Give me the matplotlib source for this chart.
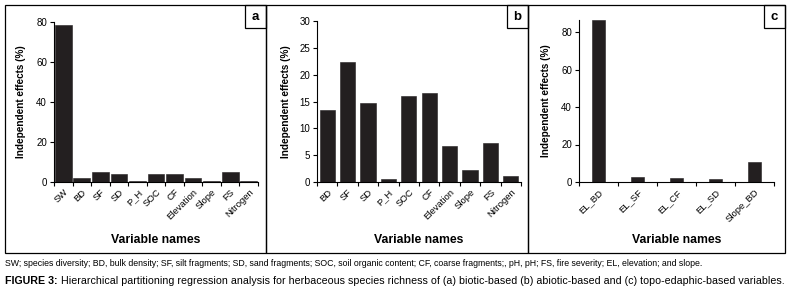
import numpy as np
import matplotlib
matplotlib.use('Agg')
import matplotlib.pyplot as plt
from matplotlib.patches import Rectangle

plt.rcParams['font.family'] = ['Liberation Sans', 'DejaVu Sans']

# data
vars_a = ['SW', 'BD', 'SF', 'SD', 'P_H', 'SOC', 'CF', 'Elevation', 'Slope', 'FS', 'Nitrogen']
vals_a = [78.7, 1.8, 4.9, 3.8, 0.7, 3.8, 3.8, 1.8, 0.7, 4.9, 0.7]

vars_b = ['BD', 'SF', 'SD', 'P_H', 'SOC', 'CF', 'Elevation', 'Slope', 'FS', 'Nitrogen']
vals_b = [13.5, 22.3, 14.8, 0.5, 16.0, 16.5, 6.8, 2.2, 7.2, 1.2]

vars_c = ['EL_BD', 'EL_SF', 'EL_CF', 'EL_SD', 'Slope_BD']
vals_c = [86.2, 2.5, 2.0, 1.4, 10.5]

bar_color = '#231f20'
W, H = 790, 292

fig = plt.figure(figsize=(W / 100, H / 100), dpi=100)


def px_axes(x0, x1, y_top, y_bot):
    ax = fig.add_axes([x0 / W, 1 - y_bot / H, (x1 - x0) / W, (y_bot - y_top) / H])
    return ax, (x0, x1, y_top, y_bot)


def panel(ax, box, names, vals, width, ymax, yticks, spine_top, ylab_x):
    n = len(names)
    x = np.arange(n)
    ax.bar(x, vals, width=width, color=bar_color, edgecolor=bar_color, linewidth=0.4)
    ax.set_xlim(-0.5, n - 0.5)
    ax.set_ylim(0, ymax)
    ax.set_yticks(yticks)
    ax.set_yticklabels([str(t) for t in yticks], fontsize=7)
    ax.set_xticks(x)
    ax.set_xticklabels(names, rotation=45, ha='right', rotation_mode='anchor', fontsize=6.8)
    ax.set_xticks(np.arange(n + 1) - 0.5, minor=True)
    ax.tick_params(axis='x', which='major', length=0, pad=4)
    ax.tick_params(axis='x', which='minor', length=3, width=0.8)
    ax.tick_params(axis='y', length=3, width=0.8, pad=2)
    for s in ['top', 'right']:
        ax.spines[s].set_visible(False)
    ax.spines['left'].set_bounds(0, spine_top)
    ax.spines['left'].set_linewidth(0.8)
    ax.spines['bottom'].set_linewidth(0.8)
    ax.set_ylabel('Independent effects (%)', fontsize=7.2, fontweight='bold')
    ax.set_xlabel('Variable names', fontsize=8.8, fontweight='bold')
    x0, x1, yt, yb = box
    ax.yaxis.set_label_coords((ylab_x - x0) / (x1 - x0), 0.5)
    ax.xaxis.set_label_coords(0.5, (yb - 240) / (yb - yt))
    ax.xaxis.label.set_va('center')
    ax.yaxis.label.set_va('center')
    ax.patch.set_alpha(0)


ax_a, box_a = px_axes(54, 258, 22, 182)
panel(ax_a, box_a, vars_a, vals_a, 0.9, 80, [0, 20, 40, 60, 80], 80, 21)

ax_b, box_b = px_axes(317, 521, 21, 182)
panel(ax_b, box_b, vars_b, vals_b, 0.75, 30, [0, 5, 10, 15, 20, 25, 30], 30, 286)

ax_c, box_c = px_axes(579, 774, 20, 182)
panel(ax_c, box_c, vars_c, vals_c, 0.35, 86.4, [0, 20, 40, 60, 80], 86.4, 546)

# panel frames and letter boxes
frames = [(5, 266), (266, 528), (528, 785)]
letters = ['a', 'b', 'c']
for (x0, x1), lab in zip(frames, letters):
    fig.add_artist(Rectangle((x0 / W, 1 - 253 / H), (x1 - x0) / W, 248 / H,
                             transform=fig.transFigure, fill=False, lw=0.9, ec='black'))
    fig.add_artist(Rectangle(((x1 - 21) / W, 1 - 28 / H), 21 / W, 23 / H,
                             transform=fig.transFigure, fill=False, lw=0.9, ec='black'))
    fig.text((x1 - 10.5) / W, 1 - 16.5 / H, lab, ha='center', va='center',
             fontsize=9.5, fontweight='bold')

fig.text(5 / W, 1 - 263 / H,
         'SW; species diversity; BD, bulk density; SF, silt fragments; SD, sand fragments; SOC, soil organic content; '
         'CF, coarse fragments;, pH, pH; FS, fire severity; EL, elevation; and slope.',
         fontsize=6.3, va='center', ha='left')

# caption: bold label then regular text right after it
bold = fig.text(5 / W, 1 - 281 / H, 'FIGURE 3:', fontsize=7.65, fontweight='bold',
                va='center', ha='left')
fig.canvas.draw()
bb = bold.get_window_extent()
fig.text((bb.x1 + 3) / W, 1 - 281 / H,
         'Hierarchical partitioning regression analysis for herbaceous species richness of '
         '(a) biotic-based (b) abiotic-based and (c) topo-edaphic-based variables.',
         fontsize=7.65, va='center', ha='left')

fig.savefig('out.png', dpi=100)
